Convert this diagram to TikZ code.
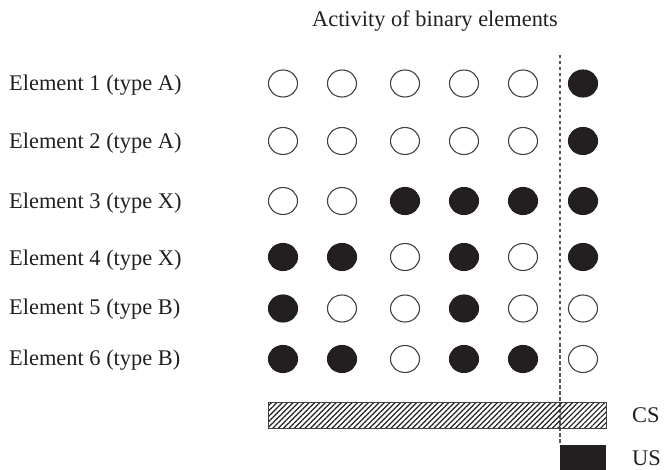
\documentclass[tikz,border=0pt]{standalone}
\usepackage{fontspec}
\setmainfont{Liberation Serif}
\usetikzlibrary{shapes.geometric,patterns.meta}
\definecolor{ink}{HTML}{231F20}
\tikzset{
  dot/.style={ellipse,minimum width=29pt,minimum height=27pt,inner sep=0pt,line width=1.1pt,draw=ink!85},
  on/.style={dot,fill=ink,draw=ink},
  off/.style={dot,fill=white},
  lbl/.style={anchor=base west,inner sep=0pt,font=\fontsize{22.4}{26}\selectfont,text=ink},
}
\begin{document}
\begin{tikzpicture}[x=1pt,y=-1pt]
\useasboundingbox (0,0) rectangle (664,470);
\node[lbl,anchor=base] (title) at (435,27) {Activity of binary elements};
% labels
\node[lbl] (l1) at (9,91) {Element 1 (type A)};
\node[lbl] (l2) at (9,149) {Element 2 (type A)};
\node[lbl] (l3) at (9,209) {Element 3 (type X)};
\node[lbl] (l4) at (9,266) {Element 4 (type X)};
\node[lbl] (l5) at (9,315) {Element 5 (type B)};
\node[lbl] (l6) at (9,366) {Element 6 (type B)};
% dashed line
\coordinate (dtop) at (560,55);
\coordinate (dbot) at (560,445);
\draw[ink!75,line width=1.2pt,dash pattern=on 3.5pt off 2.5pt] (dtop) -- (dbot);
% grid
\foreach \r/\y/\pat in {1/83.5/{0,0,0,0,0,1},2/141/{0,0,0,0,0,1},3/201/{0,0,1,1,1,1},4/257/{1,1,0,1,0,1},5/308.5/{1,0,0,1,0,0},6/359/{1,1,0,1,1,0}}{
  \foreach \v [count=\c] in \pat {
    \pgfmathsetmacro\xx{{283,342,405,464,523,583}[\c-1]}
    \ifnum\v=1
      \node[on] (d\r-\c) at (\xx,\y) {};
    \else
      \node[off] (d\r-\c) at (\xx,\y) {};
    \fi
  }
}
% CS bar
\node[draw=ink!85,line width=1pt,inner sep=0pt,minimum width=338pt,minimum height=26pt,
  pattern={Lines[angle=45,distance=3.8pt,line width=1.2pt]},pattern color=ink] (cs) at (437,415) {};
\node[lbl,anchor=west] (cslbl) at (632,415) {CS};
% US box
\node[fill=ink,inner sep=0pt,minimum width=46pt,minimum height=25pt] (us) at (583,457.5) {};
\node[lbl,anchor=west] (uslbl) at (632,458) {US};
\end{tikzpicture}
\end{document}
